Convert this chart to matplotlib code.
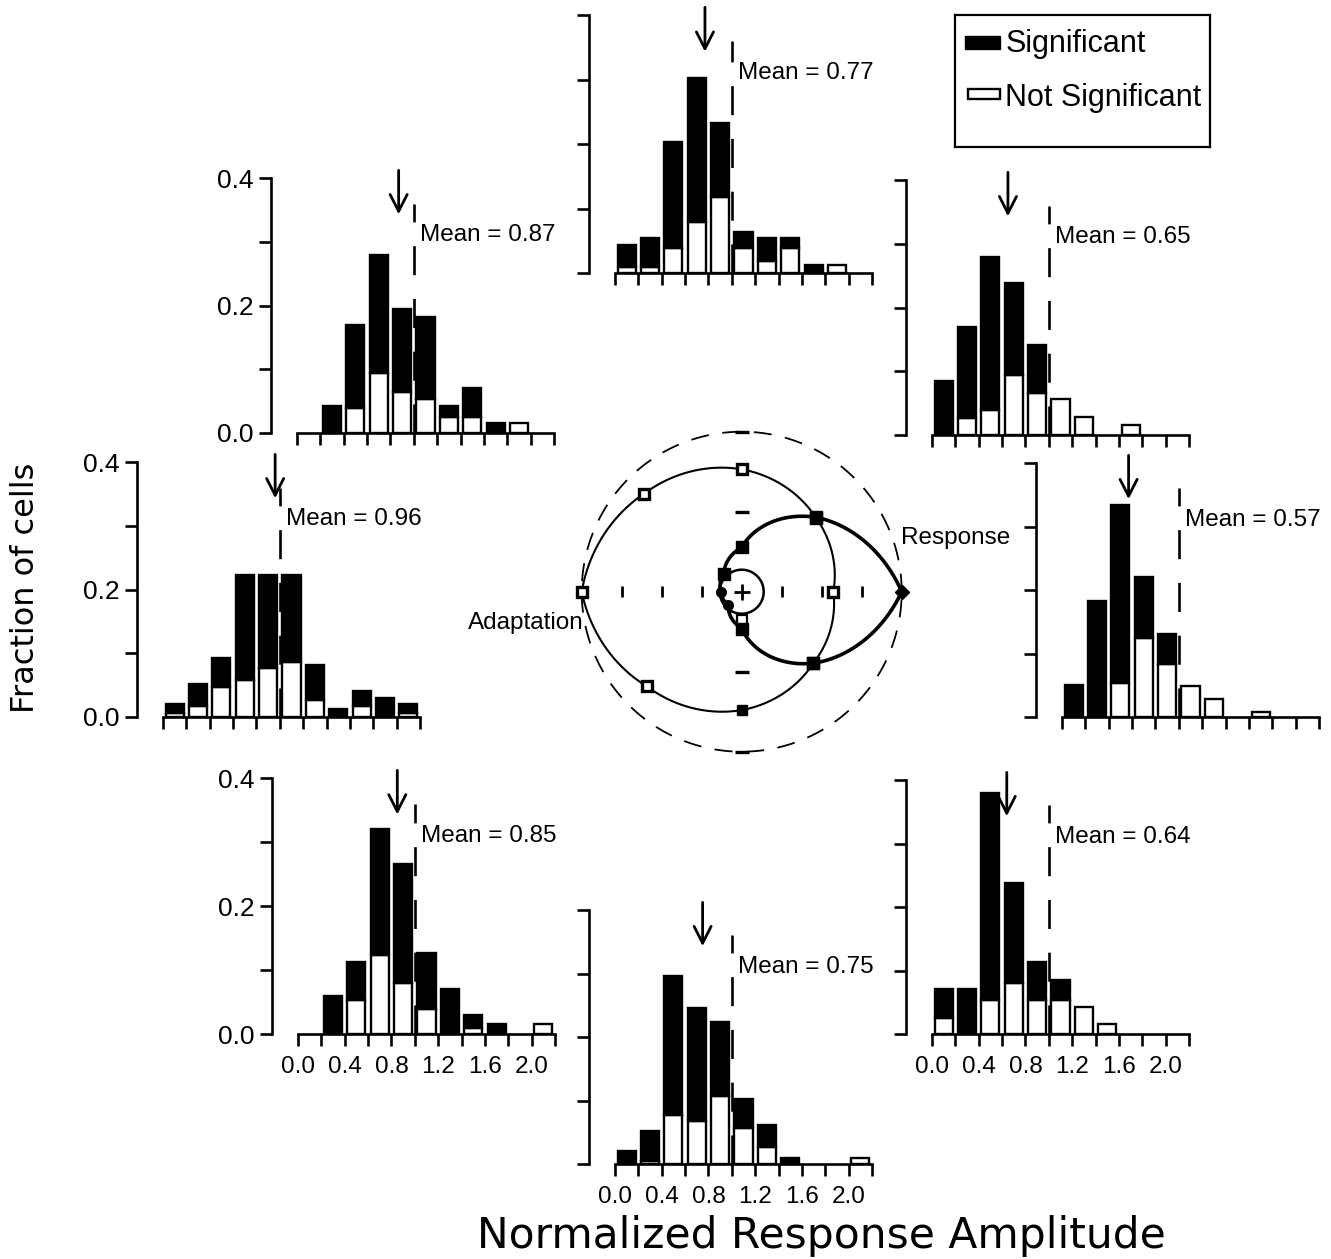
import numpy as np
import matplotlib
matplotlib.use("Agg")
import matplotlib.pyplot as plt
from matplotlib.patches import Rectangle

plt.rcParams['font.family'] = ['Liberation Sans', 'DejaVu Sans']
plt.rcParams['lines.solid_capstyle'] = 'butt'

W, H = 1331, 1259

# histogram bins (width 0.2) and tick positions
bin_centers = np.round(np.arange(0.1, 2.2, 0.2), 2)
x_ticks = np.round(np.linspace(0, 2.2, 12), 2)
x_labels = ['0.0', '', '0.4', '', '0.8', '', '1.2', '', '1.6', '', '2.0', '']
y_ticks = [0.0, 0.1, 0.2, 0.3, 0.4]
y_labels = ['0.0', '', '0.2', '', '0.4']

# fraction of cells per bin: total bar height and the not-significant part
tl_total = [0, 0.043, 0.169, 0.279, 0.195, 0.182, 0.043, 0.070, 0.015, 0.015, 0]
tl_notsig = [0, 0, 0.039, 0.094, 0.065, 0.053, 0.025, 0.025, 0, 0.015, 0]
tm_total = [0.044, 0.054, 0.203, 0.303, 0.233, 0.063, 0.054, 0.054, 0.013, 0.013, 0]
tm_notsig = [0.009, 0.009, 0.039, 0.079, 0.118, 0.039, 0.019, 0.039, 0, 0.013, 0]
tr_total = [0.085, 0.169, 0.280, 0.238, 0.141, 0.056, 0.029, 0, 0.015, 0, 0]
tr_notsig = [0, 0.026, 0.039, 0.094, 0.066, 0.056, 0.029, 0, 0.015, 0, 0]
ml_total = [0.021, 0.052, 0.093, 0.222, 0.222, 0.222, 0.082, 0.012, 0.041, 0.030, 0.020]
ml_notsig = [0.006, 0.017, 0.047, 0.058, 0.077, 0.087, 0.026, 0, 0.017, 0, 0.006]
mr_total = [0.050, 0.182, 0.334, 0.221, 0.131, 0.049, 0.028, 0, 0.008, 0, 0]
mr_notsig = [0, 0, 0.054, 0.125, 0.084, 0.049, 0.028, 0, 0.008, 0, 0]
bl_total = [0, 0.059, 0.113, 0.320, 0.266, 0.127, 0.071, 0.030, 0.016, 0, 0.015]
bl_notsig = [0, 0, 0.053, 0.123, 0.080, 0.039, 0, 0.010, 0, 0, 0.015]
bm_total = [0.020, 0.052, 0.296, 0.245, 0.224, 0.102, 0.061, 0.010, 0, 0, 0.010]
bm_notsig = [0, 0.005, 0.077, 0.067, 0.107, 0.057, 0.026, 0, 0, 0, 0.010]
br_total = [0.071, 0.071, 0.379, 0.238, 0.113, 0.085, 0.043, 0.015, 0, 0, 0]
br_notsig = [0.025, 0, 0.054, 0.081, 0.054, 0.054, 0.043, 0.015, 0, 0, 0]

means = {'tl': 0.87, 'tm': 0.77, 'tr': 0.65, 'ml': 0.96,
         'mr': 0.57, 'bl': 0.85, 'bm': 0.75, 'br': 0.64}

# polar summary: radii at 0, 45, ..., 315 degrees
polar_angles = np.arange(0, 360, 45)
adapt_r = [2.29, 2.62, 3.06, 3.46, 4.00, 3.35, 2.96, 2.53]
resp_r = [4.00, 2.63, 1.11, 0.63, 0.53, 0.47, 0.92, 2.53]

fig = plt.figure(figsize=(W / 100, H / 100), dpi=100)

# panel placement in pixels: x of value 0, y of value 0, y of value 0.4
layout = {
    'tl': (297, 433, 178, tl_total, tl_notsig, True, False),
    'tm': (615, 273, 15, tm_total, tm_notsig, False, False),
    'tr': (932, 435, 180, tr_total, tr_notsig, False, False),
    'ml': (163, 717, 462, ml_total, ml_notsig, True, False),
    'mr': (1062, 717, 463, mr_total, mr_notsig, False, False),
    'bl': (298, 1034, 778, bl_total, bl_notsig, True, True),
    'bm': (615, 1164, 910, bm_total, bm_notsig, False, True),
    'br': (932, 1034, 780, br_total, br_notsig, False, True),
}

for key, (x0, y0, ytop, total, notsig, show_y, show_x) in layout.items():
    ax = fig.add_axes([x0 / W, 1 - y0 / H, 257 / W, (y0 - ytop) / H])
    total = np.array(total)
    notsig = np.array(notsig)
    sig = total - notsig
    has_ns = notsig > 0
    has_sig = sig > 0.0005
    ax.bar(bin_centers[has_ns], notsig[has_ns], width=0.155, color='white',
           edgecolor='black', linewidth=1.7, zorder=2)
    ax.bar(bin_centers[has_sig], sig[has_sig], bottom=notsig[has_sig], width=0.155,
           color='black', edgecolor='black', linewidth=1.7, zorder=2)

    ax.plot([1.0, 1.0], [0, 0.36], color='black', lw=1.9,
            dashes=(11, 9), zorder=3, clip_on=False)
    m = means[key]
    ax.annotate('', xy=(m, 0.343), xytext=(m, 0.412),
                arrowprops=dict(arrowstyle='->,head_length=0.55,head_width=0.28',
                                lw=2.0, color='black', mutation_scale=22,
                                shrinkA=0, shrinkB=0), annotation_clip=False)
    ax.text(1.05, 0.31, f'Mean = {m:.2f}', ha='left', va='center', fontsize=17.5)

    ax.set_xlim(-0.0001, 2.2001)
    ax.set_ylim(0, 0.4)
    for s in ('top', 'right'):
        ax.spines[s].set_visible(False)
    ax.spines['left'].set_position(('outward', 19))
    ax.spines['left'].set_bounds(0, 0.4)
    ax.spines['bottom'].set_bounds(0, 2.2)
    for s in ('left', 'bottom'):
        ax.spines[s].set_linewidth(1.9)
    ax.set_xticks(x_ticks)
    ax.set_yticks(y_ticks)
    ax.set_xticklabels(x_labels if show_x else [''] * len(x_ticks))
    ax.set_yticklabels(y_labels if show_y else [''] * len(y_ticks))
    ax.tick_params(axis='both', direction='out', length=8.5, width=1.9)
    ax.tick_params(axis='x', labelsize=17.5, pad=7)
    ax.tick_params(axis='y', labelsize=19, pad=4)
    ax.patch.set_visible(False)

# central polar summary, one unit = 40 px
cx, cy, unit = 741.7, 591.7, 40.0
half = 4.5 * unit
cax = fig.add_axes([(cx - half) / W, 1 - (cy + half) / H, 2 * half / W, 2 * half / H])
cax.set_xlim(-4.5, 4.5)
cax.set_ylim(-4.5, 4.5)
cax.axis('off')

th = np.linspace(0, 2 * np.pi, 1441)
ang = np.deg2rad(polar_angles)

ring = np.linspace(0, 2 * np.pi, 400)
cax.plot(4.0 * np.cos(ring), 4.0 * np.sin(ring), color='black', lw=1.3,
         dashes=(10, 7.5))
cax.plot(0.55 * np.cos(ring), 0.55 * np.sin(ring), color='black', lw=1.8)
cax.plot(0, 0, marker='+', ms=12, mew=2, color='black')

# axis ticks of the polar summary
for v in (-3, -2, -1, 1, 2, 3):
    cax.plot([v, v], [-0.13, 0.13], color='black', lw=2)
for v in (-4, -2, 2, 4):
    cax.plot([-0.17, 0.17], [v, v], color='black', lw=2.4)

ra = np.interp(th, ang, adapt_r, period=2 * np.pi)
cax.plot(ra * np.cos(th), ra * np.sin(th), color='black', lw=1.5)
rr = np.interp(th, ang, resp_r, period=2 * np.pi)
cax.plot(rr * np.cos(th), rr * np.sin(th), color='black', lw=2.6)

adapt_r = np.array(adapt_r)
resp_r = np.array(resp_r)
ax_pts = adapt_r * np.cos(ang)
ay_pts = adapt_r * np.sin(ang)
open_idx = [0, 1, 2, 3, 4, 5, 7]
cax.plot(ax_pts[open_idx], ay_pts[open_idx], 's', ms=7.5, mfc='white',
         mec='black', mew=2.4, ls='none')
cax.plot(ax_pts[6], ay_pts[6], 's', ms=7.5, color='black')
cax.plot(0, -0.71, 's', ms=7.5, mfc='white', mec='black', mew=1.6)

rx_pts = resp_r * np.cos(ang)
ry_pts = resp_r * np.sin(ang)
sq_idx = [1, 2, 3, 6, 7]
cax.plot(rx_pts[sq_idx], ry_pts[sq_idx], 's', ms=8, color='black', ls='none')
cax.plot(rx_pts[[4, 5]], ry_pts[[4, 5]], 'o', ms=7, color='black', ls='none')
cax.plot(rx_pts[0], ry_pts[0], 'D', ms=7, color='black')

cax.text(3.98, 1.34, 'Response', ha='left', va='center', fontsize=17.5)
cax.text(-3.94, -0.78, 'Adaptation', ha='right', va='center', fontsize=17.5)

# legend box
lax = fig.add_axes([955 / W, 1 - 147 / H, 255 / W, 132 / H])
lax.set_xlim(0, 255)
lax.set_ylim(132, 0)
lax.set_xticks([])
lax.set_yticks([])
for s in lax.spines.values():
    s.set_linewidth(1.6)
lax.add_patch(Rectangle((10, 21), 35, 13, facecolor='black', edgecolor='black'))
lax.text(51, 29, 'Significant', ha='left', va='center', fontsize=22)
lax.add_patch(Rectangle((13, 74), 32, 10, facecolor='white', edgecolor='black', lw=1.7))
lax.text(50, 83, 'Not Significant', ha='left', va='center', fontsize=22)

fig.text(821 / W, 1 - 1236 / H, 'Normalized Response Amplitude', ha='center',
         va='center', fontsize=30.5, family='DejaVu Sans')
fig.text(26 / W, 1 - 588 / H, 'Fraction of cells', ha='center', va='center',
         rotation=90, fontsize=23, family='DejaVu Sans')

fig.savefig('out.png', dpi=100)
